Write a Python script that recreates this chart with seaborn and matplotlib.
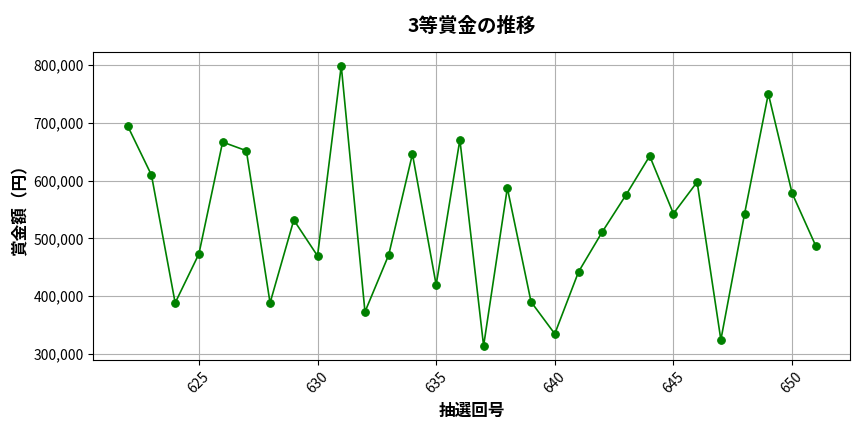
import seaborn as sns
import matplotlib.pyplot as plt
import matplotlib.ticker as mticker
import pandas as pd

draws = list(range(622, 652))
prize = [694500, 609700, 388200, 473000, 666800, 651800, 388200, 531800,
         469600, 798800, 372700, 471300, 646000, 419400, 670800, 313800,
         587200, 390000, 334600, 441900, 511100, 575100, 642600, 542800,
         597600, 324200, 542800, 750400, 578500, 486900]

df = pd.DataFrame({"draw": draws, "prize": prize})

plt.rcParams['font.family'] = ['Noto Sans CJK JP', 'DejaVu Sans']

fig, ax = plt.subplots(figsize=(8.64, 4.32), dpi=100)
sns.lineplot(data=df, x="draw", y="prize", marker="o", color="green",
             markeredgecolor="green", markersize=5.5, linewidth=1.2, ax=ax)

ax.set_title("3等賞金の推移", fontsize=14, fontweight="bold", pad=14)
ax.set_xlabel("抽選回号", fontsize=12, fontweight="bold", labelpad=4)
ax.set_ylabel("賞金額（円）", fontsize=12, fontweight="bold", labelpad=3)
ax.yaxis.set_major_formatter(mticker.FuncFormatter(lambda v, p: f"{int(v):,}"))
ax.tick_params(axis="x", rotation=45)
ax.grid(True, color="#b0b0b0", linewidth=0.8)

fig.subplots_adjust(left=0.108, right=0.984, top=0.88, bottom=0.167)
fig.savefig("out.png", dpi=100)
